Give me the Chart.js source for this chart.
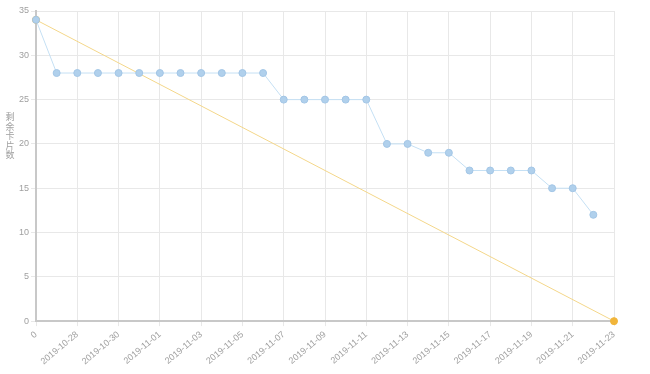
<!DOCTYPE html>
<html>
<head>
<meta charset="utf-8">
<script src="https://cdn.jsdelivr.net/npm/chart.js@4/dist/chart.umd.min.js"></script>
<style>
    html, body { margin: 0; padding: 0; background: #fff; }
    #wrap { width: 650px; height: 374px; }
</style>
</head>
<body>
<div id="wrap"><canvas id="burndown" width="650" height="374"></canvas></div>
<script>
// x categories: starting point "0" then one per day
const dayLabels = ['0',
    '2019-10-27', '2019-10-28', '2019-10-29', '2019-10-30', '2019-10-31',
    '2019-11-01', '2019-11-02', '2019-11-03', '2019-11-04', '2019-11-05',
    '2019-11-06', '2019-11-07', '2019-11-08', '2019-11-09', '2019-11-10',
    '2019-11-11', '2019-11-12', '2019-11-13', '2019-11-14', '2019-11-15',
    '2019-11-16', '2019-11-17', '2019-11-18', '2019-11-19', '2019-11-20',
    '2019-11-21', '2019-11-22', '2019-11-23'];

// remaining cards per day
const remainingCards = [34,
    28, 28, 28, 28, 28, 28, 28, 28, 28, 28, 28,
    25, 25, 25, 25, 25,
    20, 20, 19, 19,
    17, 17, 17, 17,
    15, 15, 12, null];

// ideal line: start and end only
const idealLine = [34,
    null, null, null, null, null, null, null, null, null, null, null,
    null, null, null, null, null, null, null, null, null, null, null,
    null, null, null, null, null, 0];

const yTicks = { min: 0, max: 35, step: 5 };
const yTitle = '剩余卡片数';

const tickFont = { family: 'Liberation Sans, Arial, sans-serif', size: 9 };
const tickColor = '#a0a0a0';

// y title is written vertically with upright characters
const verticalTitle = {
    id: 'verticalTitle',
    afterDraw(chart) {
        const ctx = chart.ctx;
        ctx.save();
        ctx.font = '9px "Noto Sans CJK SC", sans-serif';
        ctx.fillStyle = tickColor;
        ctx.textAlign = 'center';
        ctx.textBaseline = 'middle';
        const chars = Array.from(yTitle);
        chars.forEach((ch, i) => {
            ctx.fillText(ch, 10, 117 + i * 9.4);
        });
        ctx.restore();
    }
};

function initializeChart() {
    const ctx = document.getElementById('burndown').getContext('2d');
    new Chart(ctx, {
        type: 'line',
        data: {
            labels: dayLabels,
            datasets: [
                {
                    label: 'remaining',
                    data: remainingCards,
                    borderColor: '#c5e0f4',
                    backgroundColor: '#abcdea',
                    pointBorderColor: '#a3c6e6',
                    pointBackgroundColor: '#b0d0ec',
                    borderWidth: 1,
                    pointRadius: 3.5,
                    pointBorderWidth: 1,
                    fill: false,
                    tension: 0,
                    clip: false
                },
                {
                    label: 'ideal',
                    data: idealLine,
                    spanGaps: true,
                    borderColor: '#f4d78a',
                    backgroundColor: '#f1b53a',
                    pointBackgroundColor: '#f1b53a',
                    pointBorderColor: '#f1b53a',
                    borderWidth: 1,
                    pointRadius: 3.5,
                    fill: false,
                    tension: 0,
                    clip: false
                }
            ]
        },
        options: {
            responsive: false,
            animation: false,
            layout: { padding: { top: 11, right: 36, left: 17, bottom: 4 } },
            plugins: {
                legend: { display: false },
                tooltip: { enabled: false }
            },
            scales: {
                x: {
                    grid: { color: '#e8e8e8', tickLength: 5 },
                    border: { color: '#c8c8c8', width: 2 },
                    ticks: {
                        autoSkip: false,
                        minRotation: 40,
                        maxRotation: 40,
                        color: tickColor,
                        font: tickFont,
                        callback: function(value, index) {
                            return index % 2 === 0 ? this.getLabelForValue(value) : null;
                        }
                    }
                },
                y: {
                    min: yTicks.min,
                    max: yTicks.max,
                    grid: { color: '#e8e8e8', tickLength: 5 },
                    border: { color: '#c8c8c8', width: 2 },
                    ticks: {
                        stepSize: yTicks.step,
                        color: tickColor,
                        font: tickFont,
                        padding: 2
                    }
                }
            }
        },
        plugins: [verticalTitle]
    });
}

window.onload = function() {
    initializeChart();
}
</script>
</body>
</html>
